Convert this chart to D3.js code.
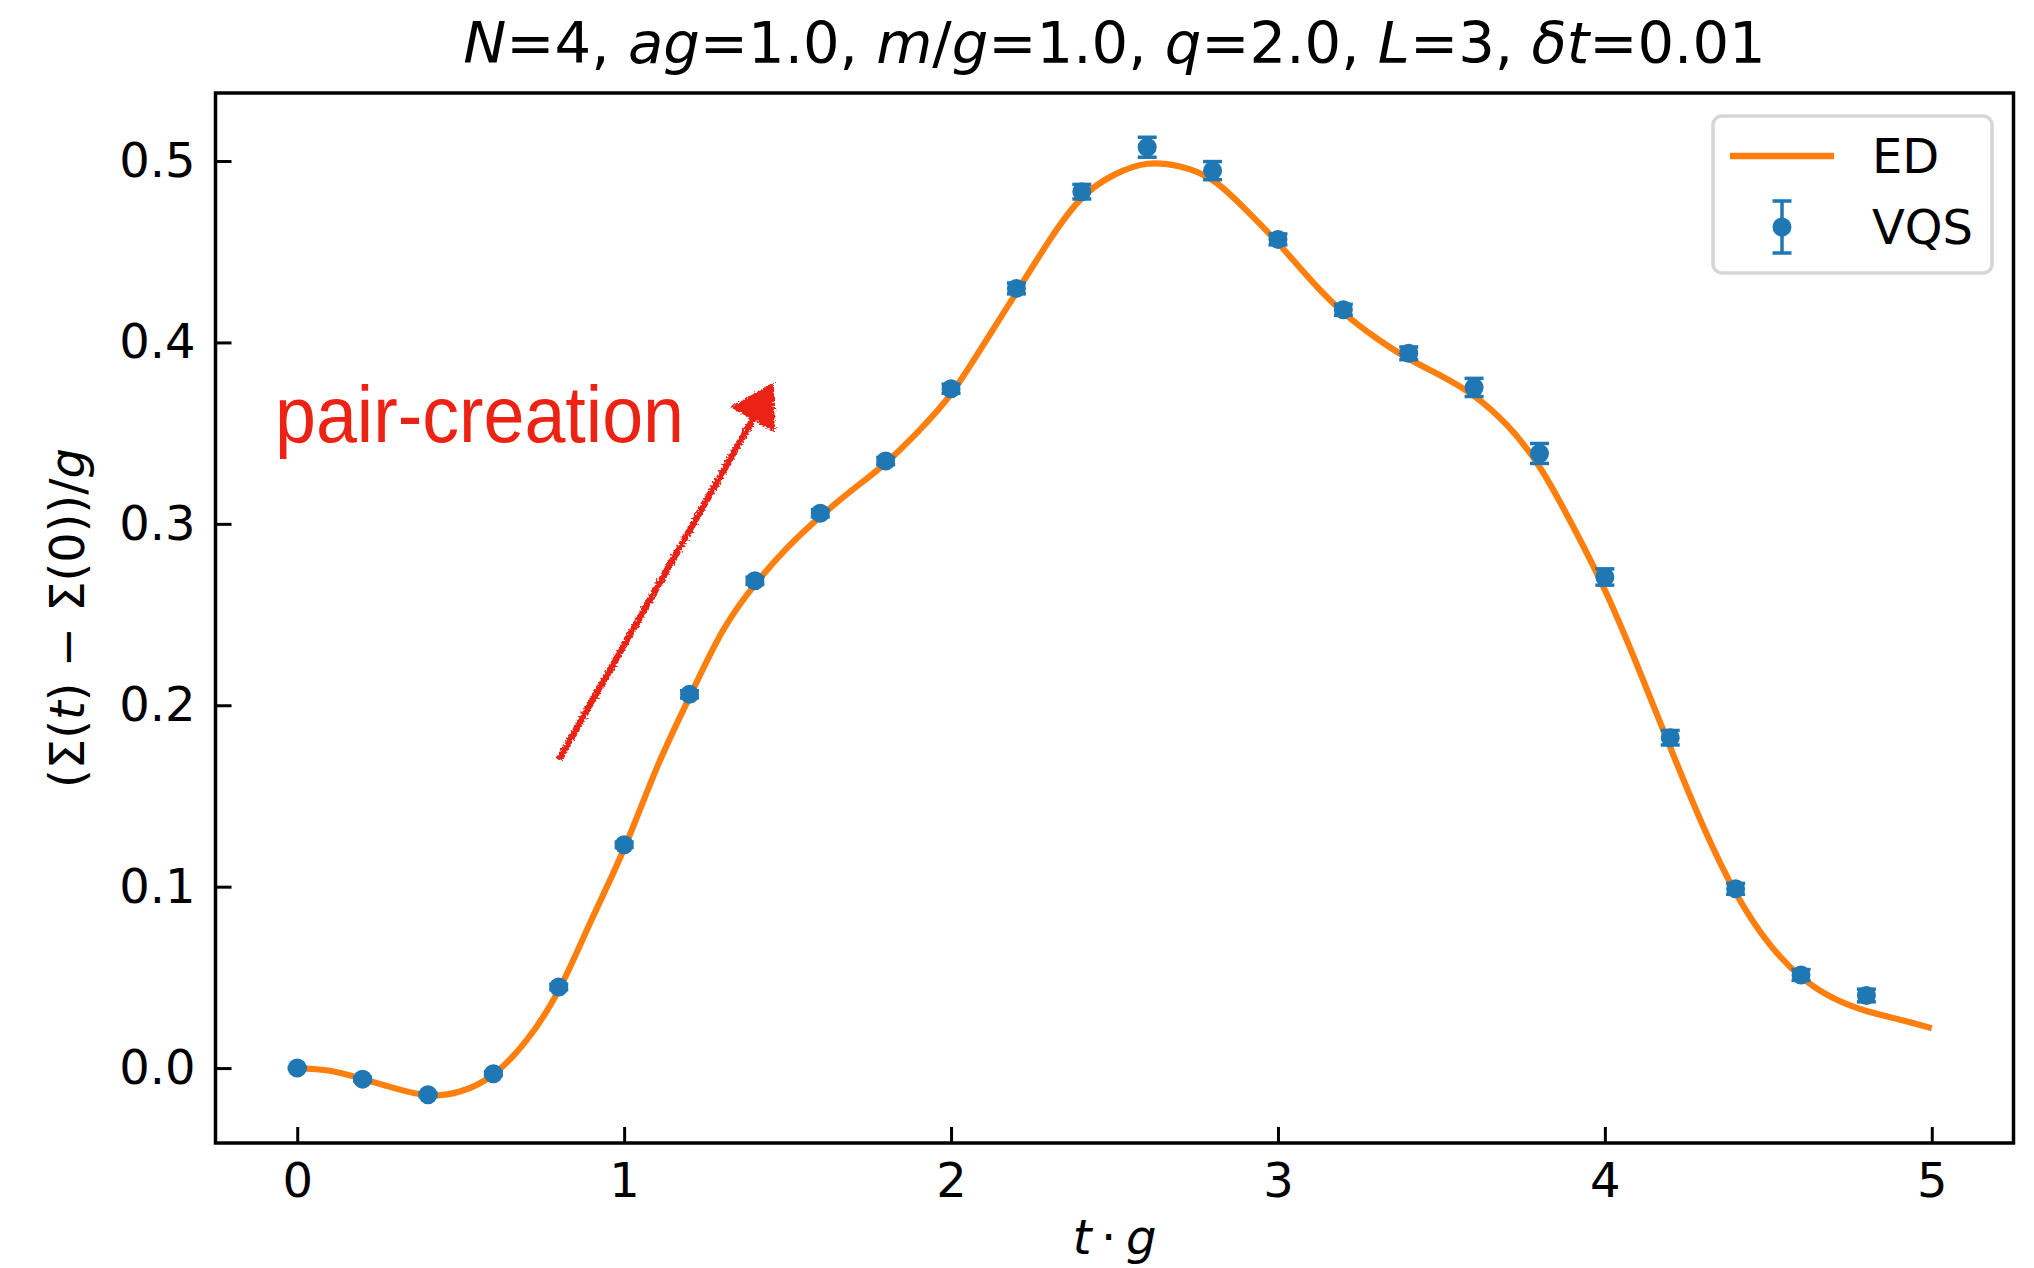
<!DOCTYPE html>
<html>
<head>
<meta charset="utf-8">
<script src="https://cdn.jsdelivr.net/npm/d3@7"></script>
<style>
  body { margin: 0; background: #fff; }
  svg { display: block; }
</style>
</head>
<body>
<svg id="chart" width="2034" height="1268"></svg>
<script>
/* global d3 */

// ED curve (exact diagonalisation), every 0.1
var edTimes = [0.0, 0.1, 0.2, 0.3, 0.4, 0.5, 0.6, 0.7, 0.8, 0.9,
               1.0, 1.1, 1.2, 1.3, 1.4, 1.5, 1.6, 1.7, 1.8, 1.9,
               2.0, 2.1, 2.2, 2.3, 2.4, 2.5, 2.6, 2.7, 2.8, 2.9,
               3.0, 3.1, 3.2, 3.3, 3.4, 3.5, 3.6, 3.7, 3.8, 3.9,
               4.0, 4.1, 4.2, 4.3, 4.4, 4.5, 4.6, 4.7, 4.8, 4.9, 5.0];
var edValues = [0.0000, -0.0015, -0.0060, -0.0112, -0.0150, -0.0128, -0.0035, 0.0150, 0.0430, 0.0816,
                0.1210, 0.1655, 0.2045, 0.2405, 0.2665, 0.2870, 0.3040, 0.3190, 0.3335, 0.3510,
                0.3716, 0.3990, 0.4275, 0.4560, 0.4796, 0.4925, 0.4985, 0.4970, 0.4895, 0.4735,
                0.4548, 0.4345, 0.4165, 0.4025, 0.3910, 0.3815, 0.3705, 0.3545, 0.3315, 0.2995,
                0.2635, 0.2215, 0.1768, 0.1336, 0.0967, 0.0692, 0.0503, 0.0385, 0.0315, 0.0268, 0.0220];

// VQS points with error bars
var vqsTimes = [0.0, 0.2, 0.4, 0.6, 0.8, 1.0, 1.2, 1.4, 1.6, 1.8, 2.0, 2.2, 2.4,
                2.6, 2.8, 3.0, 3.2, 3.4, 3.6, 3.8, 4.0, 4.2, 4.4, 4.6, 4.8];
var vqsValues = [0.0000, -0.0061, -0.0147, -0.0031, 0.0447, 0.1231, 0.2060, 0.2686, 0.3058,
                 0.3346, 0.3745, 0.4298, 0.4831, 0.5076, 0.4947, 0.4568, 0.4180, 0.3940,
                 0.3752, 0.3388, 0.2707, 0.1821, 0.0988, 0.0513, 0.0400];
var vqsErrors = [0.0005, 0.001, 0.001, 0.001, 0.0015, 0.0015, 0.002, 0.002, 0.002,
                 0.002, 0.0025, 0.003, 0.004, 0.0055, 0.005, 0.003, 0.003, 0.0035,
                 0.005, 0.0055, 0.0045, 0.004, 0.003, 0.003, 0.0035];

var xTicks = [0, 1, 2, 3, 4, 5];
var xTickLabels = ["0", "1", "2", "3", "4", "5"];
var yTicks = [0.0, 0.1, 0.2, 0.3, 0.4, 0.5];
var yTickLabels = ["0.0", "0.1", "0.2", "0.3", "0.4", "0.5"];

// annotation: arrow from/to and label anchor, in data units
var arrowFrom = [0.80, 0.170];
var arrowTo = [1.455, 0.377];
var noteAnchor = [-0.068, 0.3453];
var noteText = "pair-creation";

var W = 2034, H = 1268;
var margin = {left: 215.5, right: 20.5, top: 93, bottom: 125};
var blue = "#1f77b4", orange = "#ff7f0e", red = "#ec2314";
var fontMain = "'DejaVu Sans', sans-serif";

var svg = d3.select("#chart")
  .style("font-family", fontMain);

var x = d3.scaleLinear().domain([-0.25, 5.25]).range([margin.left, W - margin.right]);
var y = d3.scaleLinear().domain([-0.0413, 0.5375]).range([H - margin.bottom, margin.top]);

var plotL = x.range()[0], plotR = x.range()[1],
    plotT = y.range()[1], plotB = y.range()[0];

// sketchy look for the hand drawn arrow
var defs = svg.append("defs");
var rough = defs.append("filter").attr("id", "rough")
  .attr("x", "-20%").attr("y", "-20%").attr("width", "140%").attr("height", "140%");
rough.append("feTurbulence").attr("type", "fractalNoise")
  .attr("baseFrequency", 0.5).attr("numOctaves", 2).attr("seed", 7).attr("result", "noise");
rough.append("feDisplacementMap").attr("in", "SourceGraphic").attr("in2", "noise")
  .attr("scale", 7).attr("xChannelSelector", "R").attr("yChannelSelector", "G");

// ED line
var edData = edTimes.map(function(t, i) { return [t, edValues[i]]; });
var line = d3.line()
  .x(function(d) { return x(d[0]); })
  .y(function(d) { return y(d[1]); })
  .curve(d3.curveNatural);

svg.append("path")
  .datum(edData)
  .attr("d", line)
  .attr("fill", "none")
  .attr("stroke", orange)
  .attr("stroke-width", 6.2)
  .attr("stroke-linejoin", "round");

// VQS error bars + markers
var vqsData = vqsTimes.map(function(t, i) {
  return {t: t, v: vqsValues[i], e: vqsErrors[i]};
});
var capHalf = 9.5;
var eb = svg.append("g").attr("stroke", blue).attr("stroke-width", 3.5);
eb.selectAll("line.bar").data(vqsData).enter().append("line")
  .attr("class", "bar")
  .attr("x1", function(d) { return x(d.t); })
  .attr("x2", function(d) { return x(d.t); })
  .attr("y1", function(d) { return y(d.v - d.e); })
  .attr("y2", function(d) { return y(d.v + d.e); });
[-1, 1].forEach(function(sgn) {
  eb.selectAll("line.cap" + (sgn + 1)).data(vqsData).enter().append("line")
    .attr("class", "cap" + (sgn + 1))
    .attr("x1", function(d) { return x(d.t) - capHalf; })
    .attr("x2", function(d) { return x(d.t) + capHalf; })
    .attr("y1", function(d) { return y(d.v + sgn * d.e); })
    .attr("y2", function(d) { return y(d.v + sgn * d.e); });
});
svg.append("g").selectAll("circle").data(vqsData).enter().append("circle")
  .attr("cx", function(d) { return x(d.t); })
  .attr("cy", function(d) { return y(d.v); })
  .attr("r", 9.5)
  .attr("fill", blue);

// axes, ticks pointing inwards
var xAxis = d3.axisBottom(x).tickValues(xTicks)
  .tickFormat(function(d, i) { return xTickLabels[i]; })
  .tickSizeInner(-16).tickSizeOuter(0).tickPadding(20);
var yAxis = d3.axisLeft(y).tickValues(yTicks)
  .tickFormat(function(d, i) { return yTickLabels[i]; })
  .tickSizeInner(-16).tickSizeOuter(0).tickPadding(20);

var gx = svg.append("g").attr("transform", "translate(0," + plotB + ")").call(xAxis);
var gy = svg.append("g").attr("transform", "translate(" + plotL + ",0)").call(yAxis);
[gx, gy].forEach(function(g) {
  g.select(".domain").remove();
  g.attr("font-family", fontMain).attr("font-size", 48);
  g.selectAll(".tick line").attr("stroke", "#000").attr("stroke-width", 3);
  g.selectAll(".tick text").attr("fill", "#000");
});

// frame
svg.append("rect")
  .attr("x", plotL).attr("y", plotT)
  .attr("width", plotR - plotL).attr("height", plotB - plotT)
  .attr("fill", "none").attr("stroke", "#000").attr("stroke-width", 3.5);

// title
var title = svg.append("text")
  .attr("x", (plotL + plotR) / 2).attr("y", 63)
  .attr("text-anchor", "middle")
  .attr("font-size", 57.6);
[["N", 1], ["=4, ", 0], ["ag", 1], ["=1.0, ", 0], ["m", 1], ["/", 0], ["g", 1],
 ["=1.0, ", 0], ["q", 1], ["=2.0, ", 0], ["L", 1], ["=3, ", 0], ["\u03b4t", 1], ["=0.01", 0]]
  .forEach(function(p) {
    title.append("tspan").attr("font-style", p[1] ? "italic" : "normal").text(p[0]);
  });

// axis labels (x label kept just inside the bottom edge)
var xl = svg.append("text")
  .attr("x", (plotL + plotR) / 2).attr("y", 1254)
  .attr("text-anchor", "middle").attr("font-size", 48);
xl.append("tspan").attr("font-style", "italic").text("t");
xl.append("tspan").text("\u2009\u00b7\u2009");
xl.append("tspan").attr("font-style", "italic").text("g");

var yl = svg.append("text")
  .attr("transform", "translate(84," + ((plotT + plotB) / 2) + ") rotate(-90)")
  .attr("text-anchor", "middle").attr("font-size", 48);
yl.append("tspan").text("(\u03a3(");
yl.append("tspan").attr("font-style", "italic").text("t");
yl.append("tspan").text(") \u2212 \u03a3(0))/");
yl.append("tspan").attr("font-style", "italic").text("g");

// legend
var lg = svg.append("g").attr("transform", "translate(" + (plotR - 300.5) + "," + (plotT + 23) + ")");
lg.append("rect")
  .attr("x", 0).attr("y", 0).attr("width", 279).attr("height", 157)
  .attr("rx", 9).attr("ry", 9)
  .attr("fill", "#fff").attr("fill-opacity", 0.8)
  .attr("stroke", "#d6d6d6").attr("stroke-width", 3.5);
lg.append("line")
  .attr("x1", 17).attr("x2", 121).attr("y1", 40).attr("y2", 40)
  .attr("stroke", orange).attr("stroke-width", 6.5);
lg.append("text").attr("x", 159).attr("y", 57).attr("font-size", 48).text("ED");
var lgMark = lg.append("g").attr("stroke", blue).attr("stroke-width", 3.5);
lgMark.append("line").attr("x1", 69).attr("x2", 69).attr("y1", 85).attr("y2", 137);
lgMark.append("line").attr("x1", 69 - capHalf).attr("x2", 69 + capHalf).attr("y1", 85).attr("y2", 85);
lgMark.append("line").attr("x1", 69 - capHalf).attr("x2", 69 + capHalf).attr("y1", 137).attr("y2", 137);
lg.append("circle").attr("cx", 69).attr("cy", 111).attr("r", 9.5).attr("fill", blue);
lg.append("text").attr("x", 159).attr("y", 128).attr("font-size", 48).text("VQS");

// annotation text and hand drawn arrow
svg.append("text")
  .attr("x", x(noteAnchor[0])).attr("y", y(noteAnchor[1]))
  .attr("font-family", "'Liberation Sans', Arial, sans-serif")
  .attr("font-size", 79)
  .attr("textLength", 409).attr("lengthAdjust", "spacingAndGlyphs")
  .attr("fill", red)
  .text(noteText);

var ax0 = x(arrowFrom[0]), ay0 = y(arrowFrom[1]),
    ax1 = x(arrowTo[0]), ay1 = y(arrowTo[1]);
var dx = ax1 - ax0, dy = ay1 - ay0, len = Math.sqrt(dx * dx + dy * dy);
var ux = dx / len, uy = dy / len;
var headLen = 40, headHalf = 24;
var bx = ax1 - ux * headLen, by = ay1 - uy * headLen;

var arrow = svg.append("g").attr("filter", "url(#rough)");
arrow.append("line")
  .attr("x1", ax0).attr("y1", ay0).attr("x2", bx + ux * 4).attr("y2", by + uy * 4)
  .attr("stroke", red).attr("stroke-width", 6.5);
arrow.append("path")
  .attr("d", d3.line()([
    [ax1, ay1],
    [bx - uy * headHalf, by + ux * headHalf],
    [bx + uy * headHalf, by - ux * headHalf]
  ]) + "Z")
  .attr("fill", red).attr("stroke", red).attr("stroke-width", 2);
</script>
</body>
</html>
